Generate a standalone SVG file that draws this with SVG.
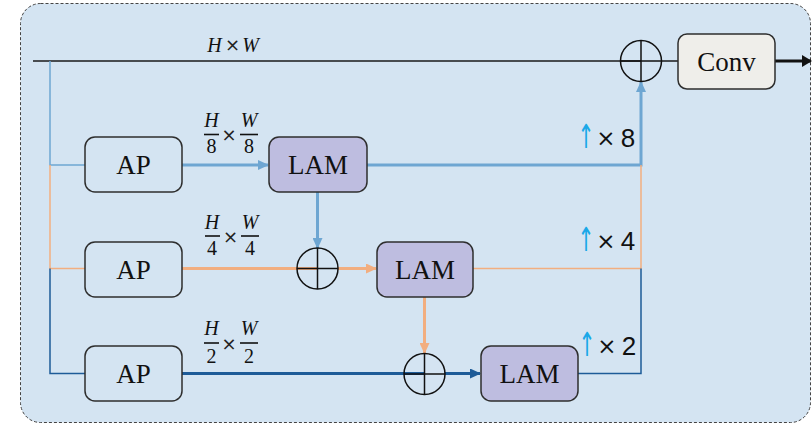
<svg xmlns="http://www.w3.org/2000/svg" width="812" height="424" viewBox="0 0 812 424">
<style>
.box{stroke:#2e2e2e;stroke-width:1.5}
.ap{fill:#d4e4f2}
.lam{fill:#bebde0}
.conv{fill:#efeeea}
.lbl{font-family:"Liberation Serif",serif;font-size:27px;fill:#111;text-anchor:middle}
.math{font-family:"Liberation Serif",serif;font-size:20px;fill:#111;text-anchor:middle}
.it{font-style:italic}
.times{font-family:"DejaVu Sans",sans-serif;font-size:18px;fill:#222;text-anchor:middle}
.up{font-family:"Liberation Sans",sans-serif;font-size:26px;fill:#111;text-anchor:middle}
.arr{font-family:"DejaVu Sans",sans-serif;font-size:33px;fill:#1aa8e8;text-anchor:middle}
.x{font-family:"DejaVu Sans",sans-serif;font-size:23px;fill:#111;text-anchor:middle}
.sum{fill:none;stroke:#111;stroke-width:1.5}
.lb{stroke:#6ea6d2;fill:none}
.or{stroke:#f2ae80;fill:none}
.db{stroke:#1d5b98;fill:none}
.thick{stroke-width:3}
.thin{stroke-width:1.5}
.bar{stroke:#111;stroke-width:1.6}
</style>
<defs>
<marker id="mlb" markerWidth="11" markerHeight="10" refX="10" refY="5" orient="auto" markerUnits="userSpaceOnUse"><path d="M0,0 L11,5 L0,10 Z" fill="#6ea6d2"/></marker>
<marker id="mor" markerWidth="11" markerHeight="10" refX="10" refY="5" orient="auto" markerUnits="userSpaceOnUse"><path d="M0,0 L11,5 L0,10 Z" fill="#f2ae80"/></marker>
<marker id="mdb" markerWidth="11" markerHeight="10" refX="10" refY="5" orient="auto" markerUnits="userSpaceOnUse"><path d="M0,0 L11,5 L0,10 Z" fill="#1d5b98"/></marker>
<marker id="mbk" markerWidth="10" markerHeight="12" refX="9" refY="6" orient="auto" markerUnits="userSpaceOnUse"><path d="M0,0 L10,6 L0,12 Z" fill="#111"/></marker>
</defs>
<rect x="20.5" y="3.5" width="790" height="419" rx="20" fill="#d4e4f2" stroke="#444" stroke-width="1" stroke-dasharray="3,2"/>
<g id="connectors">
<line x1="33" y1="61" x2="641" y2="61" stroke="#1a1a1a" stroke-width="1.5"/>
<line x1="662" y1="61" x2="678" y2="61" stroke="#1a1a1a" stroke-width="1.5"/>
<line x1="775" y1="61" x2="811" y2="61" stroke="#111" stroke-width="3" marker-end="url(#mbk)"/>
<path class="lb thin" d="M50,61 V165 H85"/>
<path class="or thin" d="M50,165 V268.5 H85"/>
<path class="db thin" d="M50,268.5 V373.5 H85"/>
<line class="lb thick" x1="182" y1="165" x2="268" y2="165" marker-end="url(#mlb)"/>
<path class="lb thick" d="M367,165 H641 V82" marker-end="url(#mlb)"/>
<line class="lb thick" x1="317.5" y1="192" x2="317.5" y2="248" marker-end="url(#mlb)"/>
<line class="or thick" x1="182" y1="268.5" x2="318" y2="268.5"/>
<line class="or thick" x1="338" y1="268.5" x2="376" y2="268.5" marker-end="url(#mor)"/>
<path class="or thin" d="M473,268.5 H641 V165"/>
<line class="or thick" x1="424.5" y1="297" x2="424.5" y2="353" marker-end="url(#mor)"/>
<line class="db thick" x1="182" y1="373.5" x2="424" y2="373.5"/>
<line class="db thick" x1="445" y1="373.5" x2="480" y2="373.5" marker-end="url(#mdb)"/>
<path class="db thin" d="M578,373.5 H641 V268.5"/>
</g>
<g id="sum1"><circle class="sum" cx="641" cy="61" r="20.5"/><path class="sum" d="M620.5,61 H661.5 M641,40.5 V81.5"/></g>
<g id="sum2"><circle class="sum" cx="317.5" cy="268.5" r="20.5"/><path class="sum" d="M297,268.5 H338 M317.5,248 V289"/></g>
<g id="sum3"><circle class="sum" cx="424.5" cy="374" r="20.5"/><path class="sum" d="M404,374 H445 M424.5,353.5 V394.5"/></g>
<g id="ap1"><rect class="box ap" x="85" y="137" width="97" height="55" rx="10"/><text class="lbl" x="133.5" y="174">AP</text></g>
<g id="ap2"><rect class="box ap" x="85" y="242" width="97" height="55" rx="10"/><text class="lbl" x="133.5" y="279">AP</text></g>
<g id="ap3"><rect class="box ap" x="85" y="346" width="97" height="55" rx="10"/><text class="lbl" x="133.5" y="383">AP</text></g>
<g id="lam1"><rect class="box lam" x="269" y="137" width="98" height="55" rx="10"/><text class="lbl" x="318" y="174">LAM</text></g>
<g id="lam2"><rect class="box lam" x="377" y="242" width="96" height="55" rx="10"/><text class="lbl" x="425" y="279">LAM</text></g>
<g id="lam3"><rect class="box lam" x="481" y="346" width="97" height="55" rx="10"/><text class="lbl" x="529.5" y="383">LAM</text></g>
<g id="conv"><rect class="box conv" x="678" y="34" width="97" height="55" rx="9"/><text class="lbl" x="726.5" y="71">Conv</text></g>
<g id="labels">
<g id="hw">
<text class="math it" x="214.5" y="52">H</text>
<text class="times" x="232.5" y="51">×</text>
<text class="math it" x="250.5" y="52">W</text>
</g>
<g id="frac8">
<text class="math it" x="211.5" y="127">H</text>
<line class="bar" x1="204" y1="134.5" x2="219" y2="134.5"/>
<text class="math" x="211.5" y="153">8</text>
<text class="times" x="229" y="141">×</text>
<text class="math it" x="249" y="127">W</text>
<line class="bar" x1="240" y1="134.5" x2="258" y2="134.5"/>
<text class="math" x="249" y="153">8</text>
</g>
<g id="frac4">
<text class="math it" x="212" y="229">H</text>
<line class="bar" x1="205" y1="236" x2="220" y2="236"/>
<text class="math" x="212" y="255">4</text>
<text class="times" x="230.5" y="242.5">×</text>
<text class="math it" x="250" y="229">W</text>
<line class="bar" x1="241" y1="236" x2="259" y2="236"/>
<text class="math" x="250" y="255">4</text>
</g>
<g id="frac2">
<text class="math it" x="211.5" y="335">H</text>
<line class="bar" x1="204" y1="343" x2="219" y2="343"/>
<text class="math" x="211.5" y="363">2</text>
<text class="times" x="229" y="349.5">×</text>
<text class="math it" x="249" y="335">W</text>
<line class="bar" x1="240" y1="343" x2="258" y2="343"/>
<text class="math" x="249" y="363">2</text>
</g>
<g id="up8"><text class="arr" transform="translate(586,148) scale(0.62,1)">↑</text><text class="x" x="606" y="146">×</text><text class="up" x="628" y="147">8</text></g>
<g id="up4"><text class="arr" transform="translate(586,251) scale(0.62,1)">↑</text><text class="x" x="606" y="249">×</text><text class="up" x="628" y="250">4</text></g>
<g id="up2"><text class="arr" transform="translate(587,356) scale(0.62,1)">↑</text><text class="x" x="607" y="354">×</text><text class="up" x="629" y="355">2</text></g>
</g>
</svg>
